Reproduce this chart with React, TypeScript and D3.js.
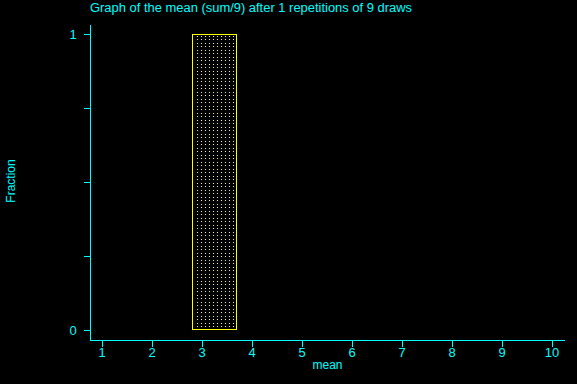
import React from "react";
import * as d3 from "d3";

const title = "Graph of the mean (sum/9) after 1 repetitions of 9 draws";
const xTicks = [1, 2, 3, 4, 5, 6, 7, 8, 9, 10];
const yLabelTicks = [0, 1];
const yMinorTicks = [0.25, 0.5, 0.75];
const binStarts = [2.806];
const binEnds = [3.694];
const fractions = [1];
const xLabel = "mean";
const yLabel = "Fraction";

const W = 577;
const H = 384;
const CYAN = "#00ffff";
const YELLOW = "#ffff00";
const FONT = "'Liberation Sans', Arial, sans-serif";

export default function App() {
  const x = d3.scaleLinear().domain([1, 10]).range([102, 552]);
  const y = d3.scaleLinear().domain([0, 1]).range([330, 34]);
  const axisX = 90.5;
  const axisY = 340.5;

  return (
    <svg
      width={W}
      height={H}
      style={{ position: "absolute", left: 0, top: 0, background: "#000", display: "block" }}
      fontFamily={FONT}
    >
      <defs>
        <pattern id="dots" patternUnits="userSpaceOnUse" width={4} height={7} x={0} y={0}>
          <rect x={1} y={1} width={1} height={1} fill={YELLOW} shapeRendering="crispEdges" />
          <rect x={1} y={4} width={1} height={1} fill={YELLOW} shapeRendering="crispEdges" />
        </pattern>
      </defs>
      <rect x={0} y={0} width={W} height={H} fill="#000" />

      <text x={90} y={12} fill={CYAN} fontSize={12} textLength={322} lengthAdjust="spacingAndGlyphs">
        {title}
      </text>

      {binStarts.map((b, i) => {
        const x0 = Math.floor(x(b)) + 0.5;
        const x1 = Math.floor(x(binEnds[i])) + 0.5;
        const yt = Math.round(y(fractions[i])) + 0.5;
        const yb = Math.round(y(0)) - 0.5;
        return (
          <g key={i}>
            <rect x={x0 + 1} y={yt + 1} width={x1 - x0 - 2} height={yb - yt - 2} fill="url(#dots)" stroke="none" shapeRendering="crispEdges" />
            <rect x={x0} y={yt} width={x1 - x0} height={yb - yt} fill="none" stroke={YELLOW} strokeWidth={1} />
          </g>
        );
      })}

      {/* Y axis */}
      <line x1={axisX} x2={axisX} y1={25} y2={axisY + 0.5} stroke={CYAN} strokeWidth={1} />
      {yLabelTicks.concat(yMinorTicks).map((t) => (
        <line key={"yt" + t} x1={84} x2={axisX} y1={Math.round(y(t)) + 0.5} y2={Math.round(y(t)) + 0.5} stroke={CYAN} />
      ))}
      {yLabelTicks.map((t) => (
        <text key={"yl" + t} x={73} y={y(t) + 4.5} fill={CYAN} fontSize={13} textAnchor="middle">
          {t}
        </text>
      ))}
      <text
        transform={`translate(14.5, ${181}) rotate(-90)`}
        fill={CYAN}
        fontSize={12}
        textAnchor="middle"
      >
        {yLabel}
      </text>

      {/* X axis */}
      <line x1={90} x2={565} y1={axisY} y2={axisY} stroke={CYAN} strokeWidth={1} />
      {xTicks.map((t) => (
        <g key={"xt" + t}>
          <line x1={Math.round(x(t)) + 0.5} x2={Math.round(x(t)) + 0.5} y1={axisY} y2={347} stroke={CYAN} />
          <text x={x(t)} y={357} fill={CYAN} fontSize={13} textAnchor="middle">
            {t}
          </text>
        </g>
      ))}
      <text x={327.5} y={369} fill={CYAN} fontSize={12} textAnchor="middle">
        {xLabel}
      </text>
    </svg>
  );
}
